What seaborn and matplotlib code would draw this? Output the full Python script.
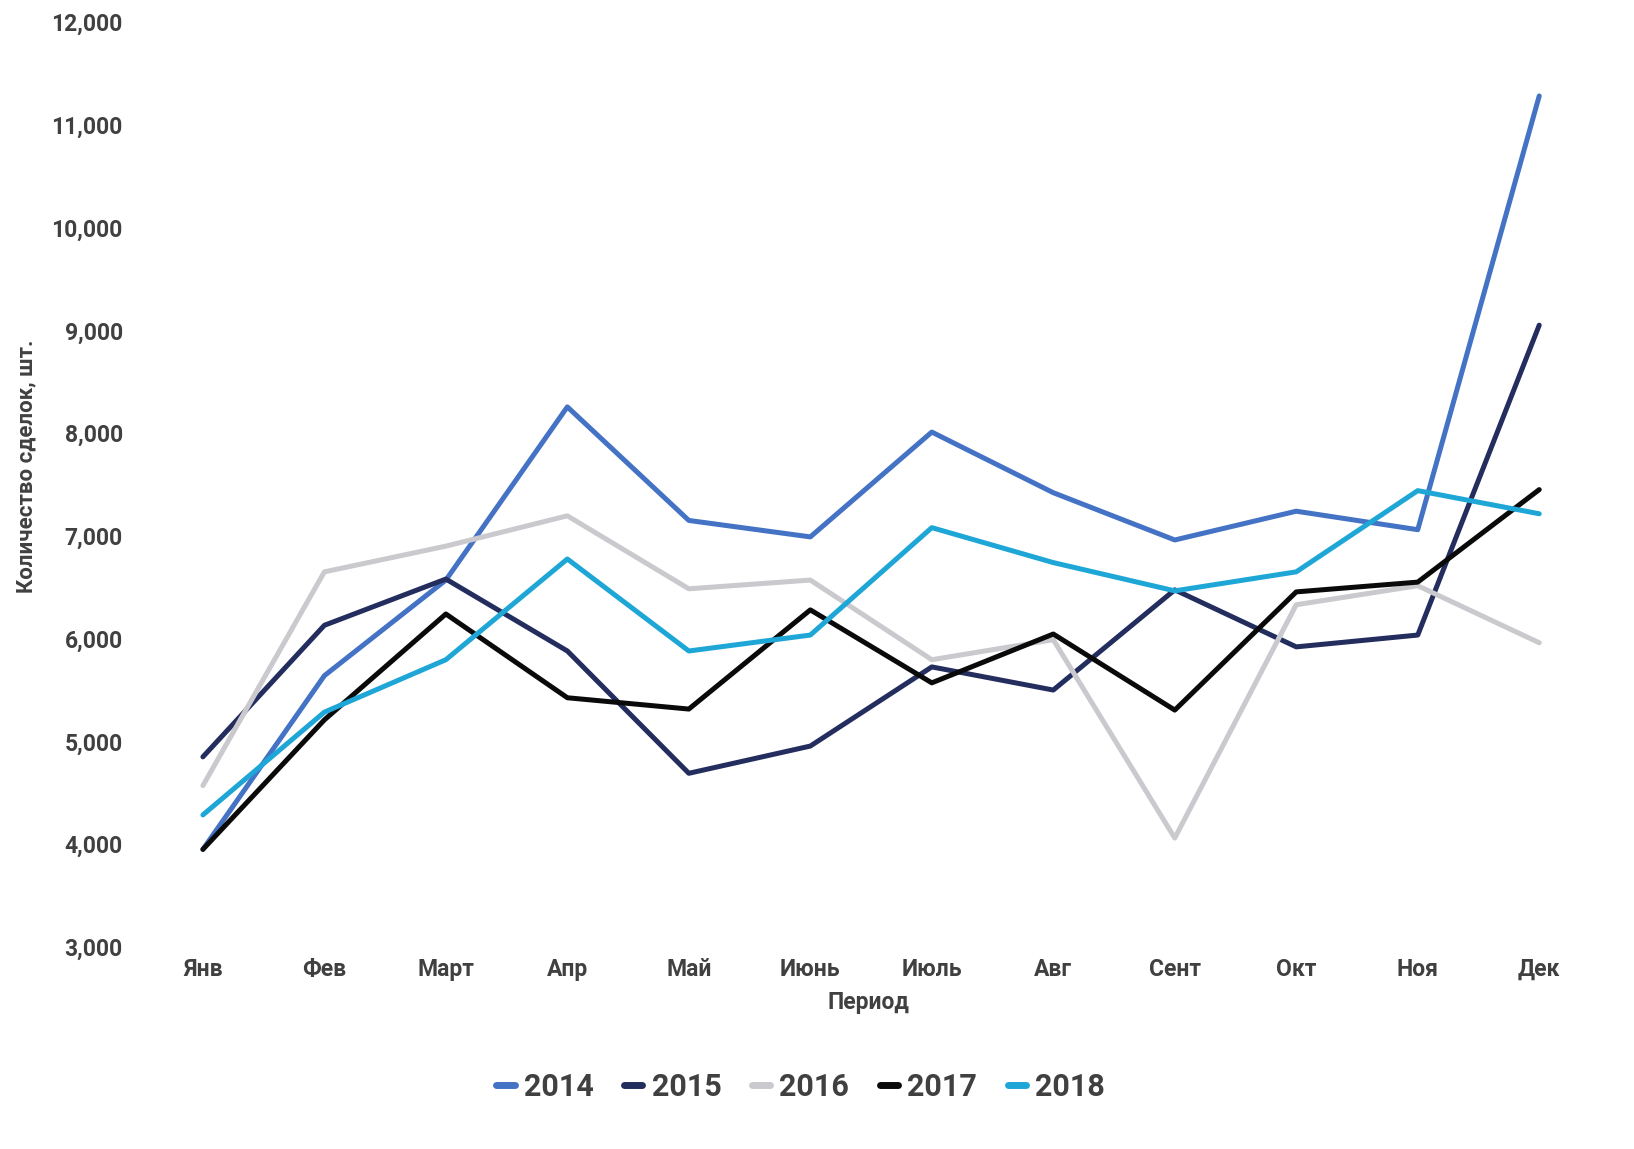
import matplotlib
matplotlib.use('Agg')
import matplotlib.pyplot as plt
import pandas as pd
import seaborn as sns

months = ['Янв', 'Фев', 'Март', 'Апр', 'Май', 'Июнь', 'Июль', 'Авг', 'Сент', 'Окт', 'Ноя', 'Дек']
years = ['2014', '2015', '2016', '2017', '2018']

v2014 = [3950, 5640, 6570, 8255, 7150, 6990, 8010, 7420, 6960, 7240, 7060, 11280]
v2015 = [4850, 6130, 6580, 5880, 4690, 4955, 5725, 5500, 6475, 5920, 6035, 9050]
v2016 = [4570, 6650, 6900, 7195, 6485, 6570, 5795, 5990, 4060, 6330, 6515, 5960]
v2017 = [3950, 5210, 6240, 5425, 5315, 6280, 5570, 6045, 5305, 6455, 6550, 7450]
v2018 = [4285, 5285, 5795, 6775, 5880, 6035, 7080, 6740, 6465, 6650, 7440, 7215]

colors = {'2014': '#4472C4', '2015': '#232D5E', '2016': '#C9C9CE',
          '2017': '#0A0A0A', '2018': '#1EA6D6'}

rows = []
for y, vals in zip(years, [v2014, v2015, v2016, v2017, v2018]):
    for i, v in enumerate(vals):
        rows.append({'year': y, 'idx': i, 'value': v})
df = pd.DataFrame(rows)

sns.set_style('white')
plt.rcParams['font.family'] = ['Roboto', 'DejaVu Sans']
text_col = '#404040'

fig = plt.figure(figsize=(16.34, 11.49), dpi=100)
ax = fig.add_axes([0.087, 0.1758, 0.855, 0.8051])
sns.lineplot(data=df, x='idx', y='value', hue='year', palette=colors,
             linewidth=3.6, ax=ax, legend=True)
for ln in ax.get_lines():
    ln.set_clip_on(False)

ax.set_xlim(-0.5, 11.0)
ax.set_ylim(3000, 12000)
ax.set_yticks(range(3000, 12001, 1000))
ax.set_yticklabels([f'{t:,}' for t in range(3000, 12001, 1000)])
ax.set_xticks(range(12))
ax.set_xticklabels(months)
for lab in ax.get_xticklabels() + ax.get_yticklabels():
    lab.set_fontsize(16.5)
    lab.set_fontweight('bold')
    lab.set_color(text_col)
ax.tick_params(axis='both', length=0, pad=8)
ax.tick_params(axis='y', pad=14)
sns.despine(ax=ax, left=True, bottom=True)

ax.set_xlabel('Период', fontsize=16.5, fontweight='bold', color=text_col)
ax.xaxis.set_label_coords(0.52, -0.048)
ax.set_ylabel('Количество сделок, шт.', fontsize=16, fontweight='bold', color=text_col)
ax.yaxis.set_label_coords(-0.075, 0.52)

handles, labels = ax.get_legend_handles_labels()
ax.get_legend().remove()
leg = fig.legend(handles=handles, labels=labels, loc='center', bbox_to_anchor=(0.49, 0.054),
                 ncol=5, frameon=False, handlelength=0.6, handletextpad=0.3, columnspacing=1.0,
                 prop={'size': 22, 'weight': 'bold'})
for t in leg.get_texts():
    t.set_color(text_col)
for h in leg.get_lines():
    h.set_linewidth(5)

fig.savefig('out.png', dpi=100)
